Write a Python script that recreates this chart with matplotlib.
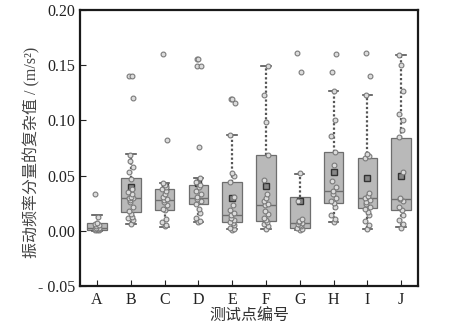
import numpy as np
import matplotlib
matplotlib.use('Agg')
from matplotlib import pyplot as plt

#  test point labels
groups = ['A', 'B', 'C', 'D', 'E', 'F', 'G', 'H', 'I', 'J']

#  box statistics
q1 = [0.001, 0.017, 0.019, 0.024, 0.008, 0.009, 0.003, 0.025, 0.021, 0.019]
med = [0.003, 0.030, 0.028, 0.030, 0.014, 0.0235, 0.007, 0.036, 0.0295, 0.029]
q3 = [0.007, 0.0476, 0.038, 0.0416, 0.044, 0.069, 0.031, 0.0715, 0.066, 0.0845]
whislo = [0.0, 0.006, 0.0035, 0.0084, 0.0015, 0.0015, 0.0005, 0.008, 0.002, 0.0033]
whishi = [0.0148, 0.0697, 0.043, 0.048, 0.0866, 0.149, 0.0516, 0.1265, 0.123, 0.159]
means = [0.004, 0.040, 0.040, 0.043, 0.030, 0.041, 0.027, 0.053, 0.048, 0.050]

#  individual samples
pts_A = [0.0005, 0.001, 0.001, 0.0015, 0.002, 0.002, 0.003, 0.003, 0.004, 0.005, 0.006, 0.007, 0.013, 0.033]
pts_B = [0.006, 0.010, 0.012, 0.013, 0.015, 0.018, 0.022, 0.026, 0.028, 0.030, 0.030, 0.031,
         0.033, 0.035, 0.038, 0.047, 0.053, 0.058, 0.063, 0.069, 0.12, 0.14, 0.14]
pts_C = [0.004, 0.005, 0.008, 0.011, 0.019, 0.020, 0.023, 0.026, 0.028, 0.029, 0.031, 0.033,
         0.036, 0.038, 0.040, 0.042, 0.043, 0.082, 0.16]
pts_D = [0.008, 0.009, 0.012, 0.016, 0.020, 0.024, 0.027, 0.029, 0.031, 0.033, 0.036, 0.040,
         0.042, 0.044, 0.048, 0.076, 0.149, 0.149, 0.156, 0.156]
pts_E = [0.001, 0.002, 0.003, 0.005, 0.007, 0.008, 0.010, 0.012, 0.014, 0.016, 0.019, 0.023,
         0.031, 0.044, 0.050, 0.052, 0.087, 0.116, 0.119, 0.119]
pts_F = [0.002, 0.004, 0.006, 0.008, 0.010, 0.012, 0.015, 0.018, 0.023, 0.024, 0.027, 0.030,
         0.033, 0.046, 0.069, 0.099, 0.123, 0.149]
pts_G = [0.001, 0.002, 0.003, 0.004, 0.005, 0.006, 0.007, 0.008, 0.009, 0.011, 0.027, 0.052, 0.144, 0.161]
pts_H = [0.008, 0.011, 0.014, 0.022, 0.025, 0.027, 0.030, 0.033, 0.036, 0.040, 0.045, 0.060,
         0.071, 0.086, 0.100, 0.127, 0.144, 0.160]
pts_I = [0.002, 0.005, 0.009, 0.014, 0.017, 0.020, 0.022, 0.024, 0.026, 0.028, 0.030, 0.032,
         0.034, 0.066, 0.068, 0.070, 0.123, 0.140, 0.161]
pts_J = [0.003, 0.006, 0.010, 0.014, 0.019, 0.022, 0.027, 0.029, 0.030, 0.053, 0.085, 0.091,
         0.100, 0.106, 0.127, 0.150, 0.159]
all_pts = [pts_A, pts_B, pts_C, pts_D, pts_E, pts_F, pts_G, pts_H, pts_I, pts_J]

yticks = [-0.05, 0.00, 0.05, 0.10, 0.15, 0.20]
ytick_labels = ['- 0.05', '0.00', '0.05', '0.10', '0.15', '0.20']

plt.rcParams['font.family'] = ['Liberation Serif', 'Noto Sans CJK SC']

fig = plt.figure(figsize=(4.5, 3.24), dpi=100)
ax = fig.add_axes([0.178, 0.117, 0.751, 0.852])

stats = []
for i, g in enumerate(groups):
    stats.append(dict(label=g, q1=q1[i], med=med[i], q3=q3[i],
                      whislo=whislo[i], whishi=whishi[i], mean=means[i]))

pos = np.arange(len(groups))
ax.bxp(stats, positions=pos, widths=0.58, showfliers=False, showmeans=True,
       patch_artist=True, capwidths=0.28,
       boxprops=dict(facecolor='#b9b9b9', edgecolor='#6e6e6e', linewidth=0.9),
       medianprops=dict(color='#6e6e6e', linewidth=1.0),
       whiskerprops=dict(color='#555555', linewidth=1.6, linestyle=(0, (1, 1))),
       capprops=dict(color='#555555', linewidth=1.2),
       meanprops=dict(marker='s', markersize=4.5, markerfacecolor='#888888',
                      markeredgecolor='#333333', markeredgewidth=1.0))

#  overlay samples with a small fixed spread
for i, p in enumerate(all_pts):
    p = np.array(p)
    off = 0.07 * np.sin(np.arange(len(p)) * 2.3)
    ax.scatter(pos[i] + off, p, s=12, facecolors='#dcdcdc', edgecolors='#7a7a7a',
               linewidths=0.8, zorder=4)

ax.set_xlim(-0.5, 9.5)
ax.set_ylim(-0.05, 0.20)
ax.set_xticks(pos)
ax.set_xticklabels(groups)
ax.set_yticks(yticks)
ax.set_yticklabels(ytick_labels)
ax.tick_params(direction='in', length=4, width=0.8, labelsize=11.5, colors='#222222')
ax.tick_params(axis='x', pad=4)
for s in ax.spines.values():
    s.set_linewidth(1.6)
    s.set_color('#1a1a1a')

ax.set_ylabel('振动频率分量的复杂值 / (m/s²)', fontsize=11.5, color='#444444')
ax.yaxis.set_label_coords(-0.118, 0.484)
ax.set_xlabel('测试点编号', fontsize=11.5, color='#333333', labelpad=0)

fig.savefig('out.png', dpi=100)
